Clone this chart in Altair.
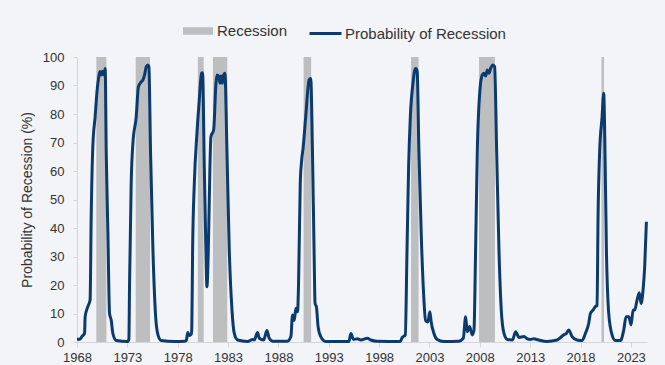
import altair as alt
import pandas as pd

# NBER recession periods (decimal years)
rec_start = [1969.92, 1973.83, 1980.0, 1981.5, 1990.5, 2001.17, 2007.92, 2020.08]
rec_end = [1970.92, 1975.25, 1980.58, 1982.92, 1991.25, 2001.92, 2009.5, 2020.33]

# Probability of recession (%)
years = [
    1968.0, 1968.3, 1968.5, 1968.75, 1968.81, 1969.07, 1969.3, 1969.41, 1969.57, 1969.8,
    1970.0, 1970.14, 1970.27, 1970.4, 1970.53, 1970.67, 1970.8, 1970.9, 1971.07, 1971.23,
    1971.4, 1971.56, 1971.9, 1973.05, 1973.15, 1973.22, 1973.38, 1973.55, 1973.88, 1974.1,
    1974.38, 1974.55, 1974.71, 1974.88, 1975.04, 1975.14, 1975.3, 1975.54, 1975.8, 1976.04,
    1976.37, 1977.7, 1978.7, 1978.85, 1979.0, 1979.15, 1979.35, 1979.4, 1979.48, 1979.65,
    1979.91, 1980.14, 1980.37, 1980.47, 1980.64, 1980.8, 1980.9, 1981.04, 1981.2, 1981.3,
    1981.57, 1981.8, 1981.9, 1982.06, 1982.2, 1982.3, 1982.43, 1982.56, 1982.69, 1982.89,
    1983.12, 1983.39, 1983.62, 1983.95, 1984.94, 1985.44, 1985.6, 1985.93, 1986.1, 1986.53,
    1986.86, 1987.09, 1987.42, 1988.9, 1989.24, 1989.4, 1989.57, 1989.74, 1989.9, 1990.0,
    1990.17, 1990.3, 1990.45, 1990.71, 1991.05, 1991.21, 1991.38, 1991.54, 1991.64, 1991.77,
    1991.94, 1992.2, 1992.7, 1995.0, 1995.2, 1995.45, 1995.85, 1996.18, 1996.84, 1997.17,
    1997.8, 2000.1, 2000.3, 2000.6, 2000.77, 2000.93, 2001.1, 2001.36, 2001.55, 2001.65,
    2001.78, 2001.95, 2002.18, 2002.45, 2002.61, 2002.84, 2003.04, 2003.17, 2003.44, 2003.77,
    2004.43, 2005.92, 2006.36, 2006.59, 2006.75, 2006.98, 2007.25, 2007.42, 2007.58, 2007.75,
    2008.01, 2008.24, 2008.41, 2008.58, 2008.74, 2008.91, 2009.07, 2009.31, 2009.47, 2009.67,
    2009.9, 2010.13, 2010.4, 2010.73, 2011.23, 2011.56, 2011.9, 2012.39, 2012.72, 2013.01,
    2013.35, 2013.84, 2014.67, 2015.67, 2016.33, 2016.59, 2016.82, 2017.16, 2017.65, 2018.15,
    2018.48, 2018.81, 2018.98, 2019.24, 2019.47, 2019.64, 2019.74, 2019.9, 2020.14, 2020.3,
    2020.4, 2020.57, 2020.8, 2021.13, 2021.46, 2021.96, 2022.29, 2022.52, 2022.79, 2023.02,
    2023.22, 2023.38, 2023.61, 2023.84, 2024.01, 2024.21, 2024.37, 2024.54,
]
probs = [
    1.0, 1.0, 2.0, 3.0, 8.9, 12.4, 14.7, 44.0, 68.5, 79.0,
    88.4, 92.5, 94.9, 93.7, 95.0, 93.7, 96.0, 67.0, 38.0, 10.0,
    7.6, 3.0, 0.5, 0.2, 1.0, 20.6, 55.7, 69.7, 79.0, 89.6,
    91.3, 92.0, 93.7, 96.6, 97.2, 96.6, 67.0, 32.3, 9.4, 2.5,
    0.5, 0.2, 0.3, 0.5, 3.3, 2.3, 2.8, 5.0, 32.3, 55.7,
    73.2, 84.9, 94.3, 94.5, 61.5, 32.3, 19.4, 32.3, 61.5, 72.0,
    74.5, 90.8, 93.7, 93.3, 90.8, 93.3, 90.8, 93.7, 94.3, 67.0,
    32.3, 11.2, 3.0, 0.7, 0.2, 0.9, 0.7, 3.3, 1.3, 0.7,
    4.0, 1.3, 0.3, 0.3, 1.9, 9.5, 7.6, 11.8, 10.6, 20.6,
    55.7, 63.5, 68.0, 79.0, 92.0, 92.5, 67.0, 32.3, 13.5, 12.4,
    5.4, 1.9, 0.2, 0.2, 3.0, 0.9, 1.1, 0.7, 1.3, 0.7,
    0.3, 0.2, 1.6, 2.5, 32.3, 61.5, 79.0, 90.8, 95.5, 96.0,
    94.9, 67.0, 38.0, 14.7, 7.6, 7.0, 10.6, 7.0, 3.0, 0.9,
    0.2, 0.3, 1.3, 8.9, 3.6, 5.4, 2.5, 4.2, 32.3, 67.0,
    88.4, 93.7, 94.3, 93.3, 95.4, 94.3, 96.0, 97.2, 96.6, 67.0,
    32.3, 11.2, 3.0, 0.9, 0.7, 3.6, 1.6, 1.9, 1.1, 0.9,
    1.1, 0.7, 0.2, 0.7, 2.5, 3.0, 4.2, 1.9, 0.7, 0.5,
    3.0, 6.5, 10.0, 11.2, 12.4, 12.8, 44.0, 67.0, 79.0, 87.3,
    73.2, 32.3, 10.0, 2.5, 0.5, 0.5, 4.2, 8.9, 8.9, 6.0,
    11.2, 11.2, 14.7, 17.3, 13.5, 18.3, 26.4, 42.2,
]

x_ticks = [1968, 1973, 1978, 1983, 1988, 1993, 1998, 2003, 2008, 2013, 2018, 2023]
y_ticks = [0, 10, 20, 30, 40, 50, 60, 70, 80, 90, 100]

NAVY = "#0b3a6f"
GRAY = "#bdbec0"
AXIS_GRAY = "#d3d5d8"
TEXT = "#333333"
FONT = "Liberation Sans"

rec_df = pd.DataFrame({"start": rec_start, "end": rec_end, "rec": "Recession"})
line_df = pd.DataFrame({"year": years, "prob": probs, "ser": "Probability of Recession"})

x_scale = alt.Scale(domain=[1968, 2024.6], nice=False, zero=False)
y_scale = alt.Scale(domain=[0, 100], nice=False)

x_axis = alt.Axis(
    values=x_ticks, format="d", title=None, grid=False,
    domainColor=AXIS_GRAY, tickColor=AXIS_GRAY, tickSize=5,
    labelFont=FONT, labelFontSize=13, labelColor=TEXT, labelPadding=4,
    labelFlush=False, labelOverlap=False,
)
y_axis = alt.Axis(
    values=y_ticks, title="Probability of Recession (%)", grid=False,
    domainColor=AXIS_GRAY, tickColor=AXIS_GRAY, tickSize=4,
    labelFont=FONT, labelFontSize=13, labelColor=TEXT, labelPadding=9,
    labelOverlap=False,
    titleFont=FONT, titleFontSize=14, titleColor=TEXT, titleFontWeight="normal",
    titlePadding=8,
)

bars = alt.Chart(rec_df).mark_rect().encode(
    x=alt.X("start:Q", scale=x_scale, axis=x_axis),
    x2="end:Q",
    y=alt.YDatum(100, scale=y_scale, axis=y_axis),
    y2=alt.Y2Datum(0),
    fill=alt.Fill(
        "rec:N",
        scale=alt.Scale(domain=["Recession"], range=[GRAY]),
        legend=alt.Legend(
            orient="none", legendX=106, legendY=-41, title=None,
            symbolType="M-1,-0.25H1V0.25H-1Z", symbolSize=900,
            symbolStrokeWidth=0, labelFont=FONT, labelFontSize=15,
            labelColor=TEXT, labelOffset=4, labelLimit=400,
        ),
    ),
)

line = alt.Chart(line_df).mark_line(strokeWidth=3, interpolate="monotone", strokeJoin="round").encode(
    x=alt.X("year:Q", scale=x_scale, axis=x_axis),
    y=alt.Y("prob:Q", scale=y_scale, axis=y_axis),
    stroke=alt.Stroke(
        "ser:N",
        scale=alt.Scale(domain=["Probability of Recession"], range=[NAVY]),
        legend=alt.Legend(
            orient="none", legendX=231, legendY=-41, title=None,
            symbolType="stroke", symbolSize=1024, symbolStrokeWidth=3,
            labelFont=FONT, labelFontSize=15, labelColor=TEXT, labelOffset=2,
            labelLimit=400,
        ),
    ),
)

chart = alt.layer(bars, line).properties(
    width=570,
    height=285,
    autosize=alt.AutoSizeParams(type="none"),
    padding={"left": 77, "top": 57, "right": 18, "bottom": 23},
    background="#f2f4f7",
).configure_view(stroke=None)

chart.save("out.html", embed_options={"renderer": "svg", "actions": False})
